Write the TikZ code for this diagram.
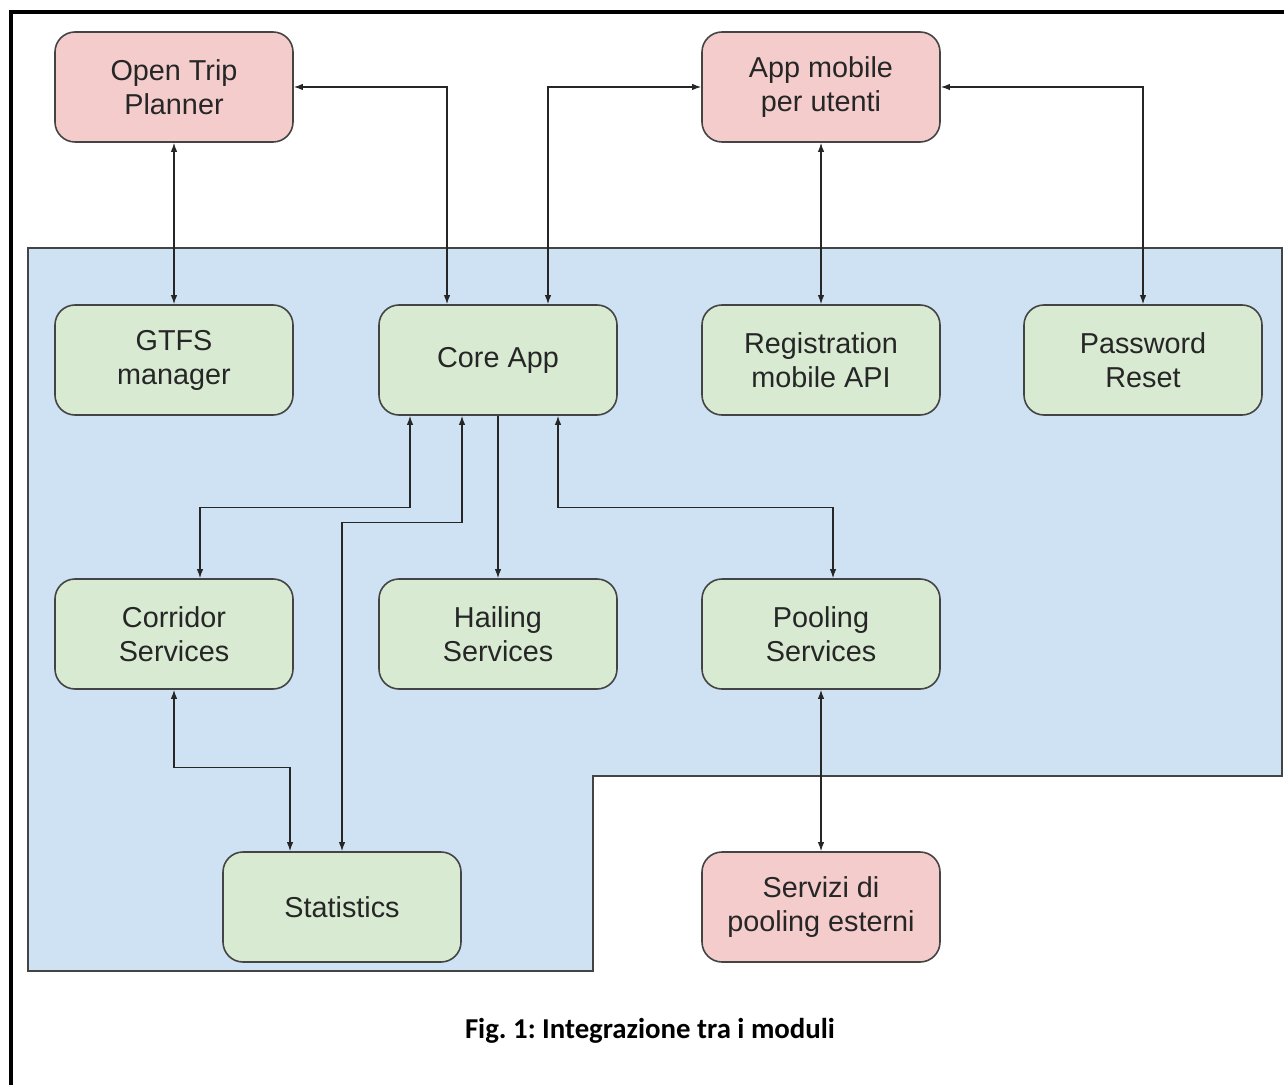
\documentclass[tikz,border=0pt]{standalone}
\usepackage{fontspec}
\setmainfont{Liberation Sans}
\newfontfamily\capfont{Carlito}
\usetikzlibrary{calc,arrows.meta}
\definecolor{extpink}{HTML}{F4CCCC}
\definecolor{modgreen}{HTML}{D9EAD3}
\definecolor{areablue}{HTML}{CFE2F3}
\definecolor{edgegray}{HTML}{444444}
\frenchspacing
\tikzset{
  module/.style={draw=edgegray,line width=0.8pt,rounded corners=10pt,fill=modgreen,
    minimum width=119pt,minimum height=55pt,align=center,
    font=\fontsize{14.4}{17}\selectfont,text=black!85},
  extmodule/.style={module,fill=extpink},
  link/.style={{Latex[length=4.5pt,width=3.2pt]}-{Latex[length=4.5pt,width=3.2pt]},black!85,line width=0.6pt},
  onelink/.style={link,-{Latex[length=4.5pt,width=3.2pt]}}
}
\begin{document}
\begin{tikzpicture}[x=0.5pt,y=-0.5pt]
\useasboundingbox (0,0) rectangle (1284,1085);
\draw[line width=1.6pt] (11,1085) -- (11,12) -- (1284,12);
\filldraw[fill=areablue,draw=edgegray,line width=0.8pt] (28,248) -- (1282,248) -- (1282,776) -- (593,776) -- (593,971) -- (28,971) -- cycle;
\node[extmodule] (otp) at (174,87) {Open Trip\\Planner};
\node[extmodule] (app) at (821,87) {App mobile\\per utenti};
\node[module] (gtfs) at (174,360) {GTFS\\manager};
\node[module] (core) at (498,360) {Core App};
\node[module] (reg) at (821,360) {Registration\\mobile API};
\node[module] (pwd) at (1143,360) {Password\\Reset};
\node[module] (corr) at (174,634) {Corridor\\Services};
\node[module] (hail) at (498,634) {Hailing\\Services};
\node[module] (pool) at (821,634) {Pooling\\Services};
\node[module] (stat) at (342,907) {Statistics};
\node[extmodule] (ext) at (821,907) {Servizi di\\pooling esterni};
\draw[link] (otp.south) -- (gtfs.north);
\draw[link] (otp.east) -| ($(core.north)+(-51,0)$);
\draw[link] ($(core.north)+(50,0)$) |- (app.west);
\draw[link] (app.south) -- (reg.north);
\draw[link] (app.east) -| (pwd.north);
\draw[link] ($(core.south)+(-88,0)$) -- ++(0,92) -| ($(corr.north)+(26,0)$);
\draw[link] ($(core.south)+(-36,0)$) -- ++(0,107) -| (stat.north);
\draw[onelink] (core.south) -- (hail.north);
\draw[link] ($(core.south)+(60,0)$) -- ++(0,92) -| ($(pool.north)+(12,0)$);
\draw[link] (corr.south) -- ++(0,78) -| ($(stat.north)+(-52,0)$);
\draw[link] (pool.south) -- (ext.north);
\node[font=\capfont\bfseries\fontsize{14.4}{17}\selectfont] (caption) at (650,1031) {Fig. 1: Integrazione tra i moduli};
\end{tikzpicture}
\end{document}
